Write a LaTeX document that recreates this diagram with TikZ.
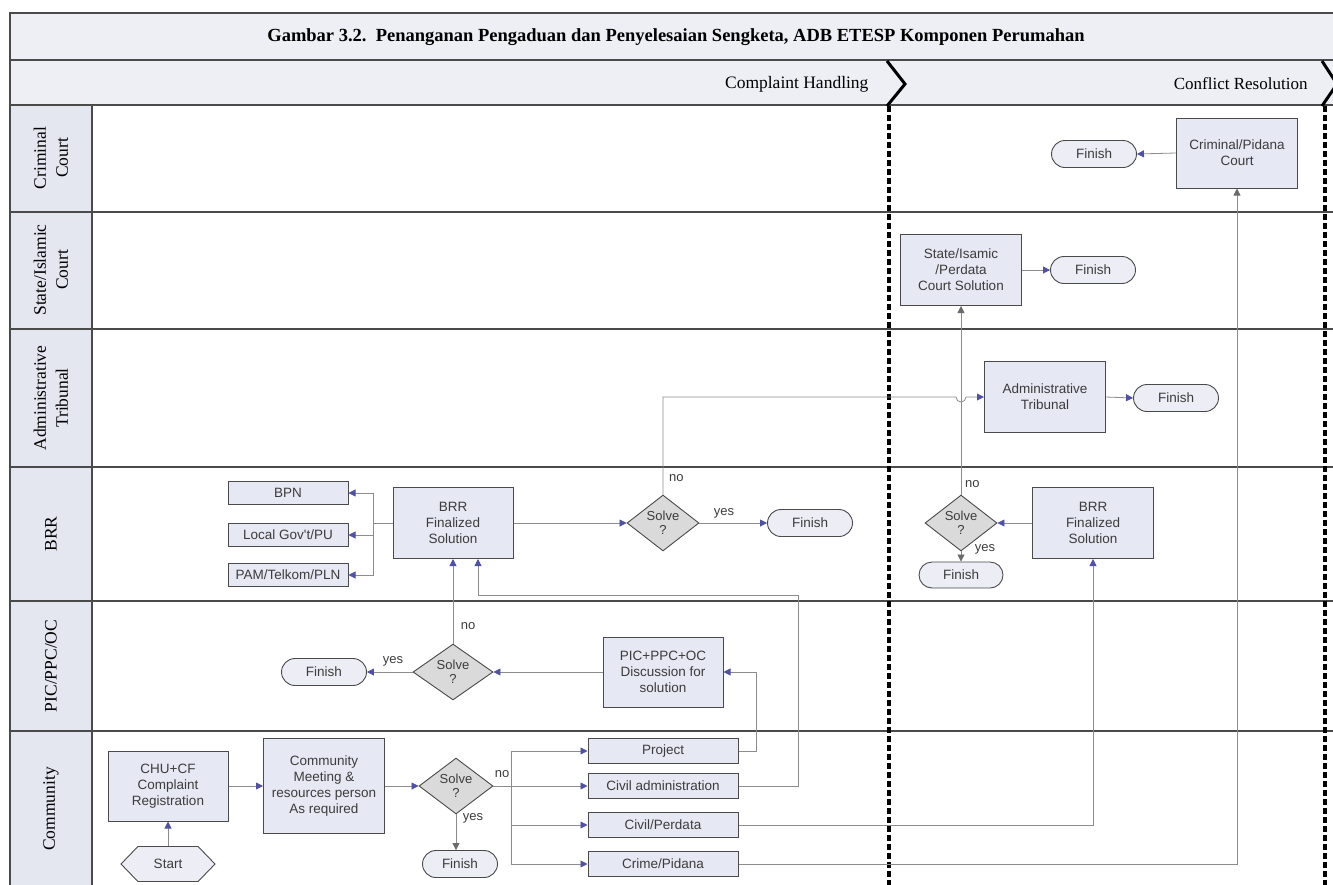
\documentclass[tikz,border=0pt]{standalone}
\usepackage{fontspec}
\setmainfont{Liberation Serif}
\newfontfamily\arialf{Liberation Sans}
\usetikzlibrary{shapes.geometric,shapes.misc,shapes.symbols,arrows.meta,calc}
\definecolor{boxfill}{HTML}{E6E8F3}
\definecolor{termfill}{HTML}{ECEDF5}
\definecolor{decfill}{HTML}{DADADA}
\definecolor{bandfill}{HTML}{EDEFF5}
\definecolor{lanefill}{HTML}{E4E6F0}
\definecolor{frameline}{HTML}{4A4A4A}
\definecolor{linegray}{HTML}{8C8C8C}
\definecolor{tipblue}{HTML}{5050A8}
\definecolor{tipgray}{HTML}{6A6A6A}
\definecolor{txt}{HTML}{3C3C3C}
\tikzset{
  nodefont/.style={font=\arialf\fontsize{13.5}{16}\selectfont, text=txt},
  proc/.style={rectangle, draw=frameline, line width=1pt, fill=boxfill, nodefont, align=center, inner sep=0pt},
  term/.style={rounded rectangle, draw=frameline, line width=0.9pt, fill=termfill, nodefont, minimum width=85pt, minimum height=27pt, inner sep=0pt},
  dec/.style={diamond, draw=frameline, line width=0.9pt, fill=decfill, nodefont, align=center, inner sep=0pt, font=\arialf\fontsize{13}{14}\selectfont},
  conn/.style={draw=linegray, line width=0.8pt},
  arr/.style={conn, -{Triangle[length=7pt,width=7pt,color=tipblue]}},
  arrg/.style={conn, -{Triangle[length=7pt,width=7pt,color=tipgray]}},
  lbl/.style={font=\arialf\fontsize{13}{15}\selectfont, text=txt, inner sep=1pt},
  lanelbl/.style={font=\fontsize{17.5}{22}\selectfont, rotate=90, align=center, text=black},
  sep/.style={draw=black, line width=3.5pt, dash pattern=on 6pt off 3pt},
  chev/.style={draw=black, line width=3pt},
  frame/.style={draw=frameline, line width=1.2pt}
}
\begin{document}
\begin{tikzpicture}[x=1pt,y=-1pt]
\useasboundingbox (0,0) rectangle (1333,884);
\fill[white] (0,0) rectangle (1333,884);
% bands
\fill[bandfill] (10,13) rectangle (1340,105);
\fill[lanefill] (10,105) rectangle (92,890);
\draw[frame] (1340,13) -- (10,13) -- (10,890);
\draw[frame] (10,60) -- (1340,60);
\draw[frame] (10,105) -- (1340,105);
\foreach \yy in {212,329,467,601,731} \draw[frame] (10,\yy) -- (1340,\yy);
\draw[frame] (92,105) -- (92,890);
% title and headers
\node (title) at (676,37) {\fontsize{18.5}{22}\selectfont\bfseries Gambar 3.2.\ \ Penanganan Pengaduan dan Penyelesaian Sengketa, ADB ETESP Komponen Perumahan};
\node[anchor=east] (hcompl) at (872,84) {\fontsize{17.5}{20}\selectfont Complaint Handling};
\node[anchor=east] (hconf) at (1311,84) {\fontsize{17}{20}\selectfont Conflict Resolution};
\draw[chev] (887,61) -- (905,84) -- (887,106);
\draw[chev] (1322,61) -- (1337,84) -- (1322,106);
\draw[sep] (889,106) -- (889,890);
\draw[sep] (1325,106) -- (1325,890);
% lane labels
\node[lanelbl] (l1) at (51,158) {Criminal\\Court};
\node[lanelbl] (l2) at (51,270) {State/Islamic\\Court};
\node[lanelbl] (l3) at (51,398) {Administrative\\Tribunal};
\node[lanelbl] (l4) at (51,534) {BRR};
\node[lanelbl] (l5) at (51,666) {PIC/PPC/OC};
\node[lanelbl] (l6) at (51,809) {Community};
% nodes
\node[proc, minimum width=121pt, minimum height=70pt] (critbox) at (1237,153) {Criminal/Pidana\\Court};
\node[term] (critfin) at (1094,154) {Finish};
\node[proc, minimum width=121pt, minimum height=71pt] (statebox) at (961,270) {State/Isamic\\/Perdata\\Court Solution};
\node[term] (statefin) at (1093,270) {Finish};
\node[proc, minimum width=121pt, minimum height=71pt] (admbox) at (1045,397) {Administrative\\Tribunal};
\node[term] (admfin) at (1176,398) {Finish};
\node[proc, minimum width=120pt, minimum height=23pt] (bpn) at (288,493) {BPN};
\node[proc, minimum width=120pt, minimum height=23pt] (lgov) at (288,535) {Local Gov't/PU};
\node[proc, minimum width=120pt, minimum height=23pt] (pam) at (288,575) {PAM/Telkom/PLN};
\node[proc, minimum width=120pt, minimum height=71pt] (brr1) at (453,523) {BRR\\Finalized\\Solution};
\node[dec, minimum width=72pt, minimum height=45pt] (dec1) at (663,523) {Solve\\?};
\node[term] (fin1) at (810,523) {Finish};
\node[dec, minimum width=72pt, minimum height=43pt] (dec2) at (961,523) {Solve\\?};
\node[proc, minimum width=121pt, minimum height=71pt] (brr2) at (1093,523) {BRR\\Finalized\\Solution};
\node[term, minimum width=84pt, minimum height=26pt] (fin2) at (961,575) {Finish};
\node[term] (picfin) at (324,672) {Finish};
\node[dec, minimum width=80pt, minimum height=45pt] (dec3) at (453,672) {Solve\\?};
\node[proc, minimum width=120pt, minimum height=70pt] (picbox) at (663,672) {PIC+PPC+OC\\Discussion for\\solution};
\node[proc, minimum width=120pt, minimum height=70pt] (chu) at (168,786) {CHU+CF\\Complaint\\Registration};
\node[proc, minimum width=121pt, minimum height=95pt] (meet) at (324,786) {Community\\Meeting \&\\resources person\\As required};
\node[signal, signal to=west and east, signal pointer angle=92, draw=frameline, line width=0.9pt, fill=termfill, nodefont, minimum width=94pt, minimum height=35pt, inner sep=0pt] (start) at (168,864) {Start};
\node[dec, minimum width=74pt, minimum height=46pt] (dec4) at (456,786) {Solve\\?};
\node[term, minimum width=75pt] (fin4) at (460,864) {Finish};
\node[proc, minimum width=150pt, minimum height=25pt] (proj) at (663,751) {Project};
\node[proc, minimum width=150pt, minimum height=25pt] (civadm) at (663,786) {Civil administration};
\node[proc, minimum width=150pt, minimum height=25pt] (civper) at (663,825) {Civil/Perdata};
\node[proc, minimum width=150pt, minimum height=25pt] (crime) at (663,864) {Crime/Pidana};
% connectors
\draw[arr] (critbox.west) -- (critfin.east);
\draw[arrg] (crime.east) -| (critbox.south);
\draw[arr] (statebox.east) -- (statefin.west);
\draw[arrg] (dec2.north) -- (statebox.south);
\node[lbl, anchor=west] (no2) at (964,484) {no};
\draw[arr] (admbox.east) -- (admfin.west);
\coordinate (hopL) at (956,397);
\draw[arr] (dec1.north) |- (hopL) arc[start angle=180, end angle=360, radius=5pt] -- (admbox.west);
\node[lbl, anchor=west] (no1) at (668,478) {no};
\draw[arr] (brr1.east) -- (dec1.west);
\draw[arr] (dec1.east) -- (fin1.west);
\node[lbl] (yes1) at (724,513) {yes};
\coordinate (spine) at (373,523);
\draw[conn] (brr1.west) -- (spine);
\draw[arr] (spine) |- (bpn.east);
\draw[arr] (spine) -- (lgov.east -| spine) -- (lgov.east);
\draw[arr] (spine) |- (pam.east);
\draw[arr] (brr2.west) -- (dec2.east);
\draw[arrg] (dec2.south) -- (fin2.north);
\node[lbl] (yes2) at (985,549) {yes};
\draw[arr] (civper.east) -| (brr2.south);
\draw[arr] (picbox.west) -- (dec3.east);
\draw[arr] (dec3.west) -- (picfin.east);
\node[lbl] (yes3) at (393,661) {yes};
\draw[arr] (dec3.north) -- (brr1.south);
\node[lbl] (no3) at (468,626) {no};
\draw[arr] (proj.east) -- ++(18,0) |- (picbox.east);
\draw[arr] (civadm.east) -- ++(60,0) -- ++(0,-191) -| ($(brr1.south)+(25,0)$);
\draw[arr] (start.north) -- (chu.south);
\draw[arr] (chu.east) -- (meet.west);
\draw[arr] (meet.east) -- (dec4.west);
\draw[arrg] (dec4.south) -- (dec4.south |- fin4.north);
\node[lbl] (yes4) at (473,818) {yes};
\coordinate (spine2) at (511,786);
\draw[conn] (dec4.east) -- (spine2);
\node[lbl] (no4) at (502,774) {no};
\draw[arr] (spine2) |- (proj.west);
\draw[arr] (spine2) -- (civadm.west);
\draw[arr] (spine2) |- (civper.west);
\draw[arr] (spine2) |- (crime.west);
\end{tikzpicture}
\end{document}
